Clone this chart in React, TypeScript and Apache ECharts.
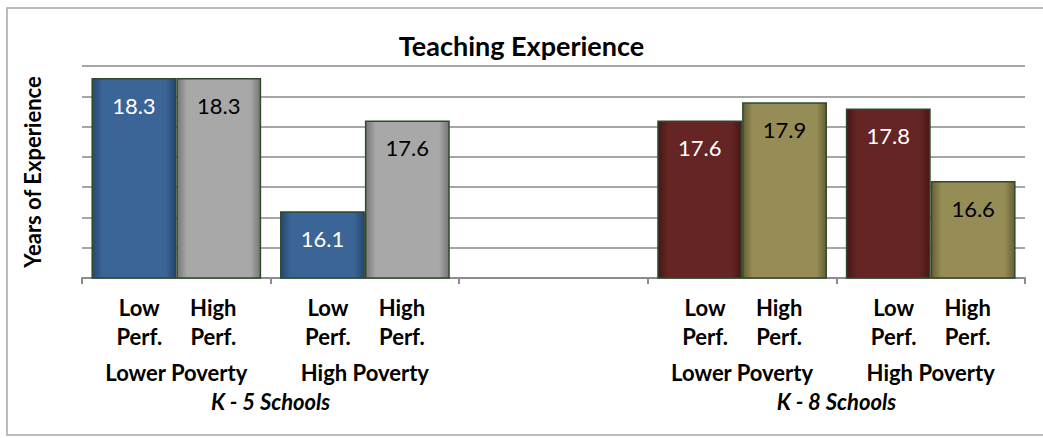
import React, { useEffect, useRef } from "react";
import * as echarts from "echarts";

const groups = ["Lower Poverty", "High Poverty", "", "Lower Poverty", "High Poverty"];
const schoolLabels = ["", "K - 5 Schools", "", "", "K - 8 Schools", ""];
const lowPerf = [18.3, 16.1, null, 17.6, 17.8];
const highPerf = [18.3, 17.6, null, 17.9, 16.6];
const lowColors = ["blue", "blue", "blue", "maroon", "maroon"];
const highColors = ["gray", "gray", "gray", "olive", "olive"];

const palette: Record<string, { edge: string; mid: string; text: string }> = {
  blue: { edge: "#26466f", mid: "#3b6597", text: "#ffffff" },
  gray: { edge: "#767676", mid: "#a8a8a8", text: "#000000" },
  maroon: { edge: "#441715", mid: "#652525", text: "#ffffff" },
  olive: { edge: "#675f36", mid: "#968c56", text: "#000000" },
};

function fill(name: string) {
  const p = palette[name];
  return new echarts.graphic.LinearGradient(0, 0, 1, 0, [
    { offset: 0, color: p.edge },
    { offset: 0.12, color: p.mid },
    { offset: 0.88, color: p.mid },
    { offset: 1, color: p.edge },
  ]);
}

function items(values: (number | null)[], colors: string[]) {
  return values.map((v, i) => ({
    value: v,
    itemStyle: { color: fill(colors[i]) },
    label: { color: palette[colors[i]].text },
  }));
}

const FONT = "Lato, 'Open Sans', sans-serif";

export default function App() {
  const ref = useRef<HTMLDivElement>(null);
  useEffect(() => {
    if (!ref.current) return;
    const chart = echarts.init(ref.current, undefined, { renderer: "svg" });
    const barLabel = {
      show: true,
      position: "insideTop",
      distance: 16,
      fontSize: 22,
      fontFamily: FONT,
      formatter: (p: any) => (p.value == null ? "" : Number(p.value).toFixed(1)),
    };
    const barItem = { borderColor: "#2e4a2b", borderWidth: 1.5 };
    chart.setOption({
      animation: false,
      textStyle: { fontFamily: FONT },
      title: {
        text: "Teaching Experience",
        left: "center",
        top: 32,
        padding: 0,
        textStyle: { fontSize: 27, fontWeight: "bold", color: "#000", fontFamily: FONT },
      },
      graphic: [
        {
          type: "rect",
          shape: { x: 7, y: 8, width: 1045, height: 427 },
          style: { fill: "none", stroke: "#a6a6a6", lineWidth: 1.5 },
          silent: true,
        },
      ],
      grid: { left: 82, right: 18, top: 66, bottom: 160 },
      xAxis: [
        {
          type: "category",
          data: groups,
          position: "bottom",
          axisLine: { lineStyle: { color: "#8c8c8c", width: 2 } },
          axisTick: { show: true, length: 6, lineStyle: { color: "#8c8c8c", width: 2 } },
          axisLabel: {
            interval: 0,
            margin: 15,
            color: "#000",
            formatter: (v: string) =>
              v ? `{c|Low}{c|High}\n{c|Perf.}{c|Perf.}\n{g|${v}}` : "",
            rich: {
              c: { width: 74, align: "center", fontSize: 22, fontWeight: "bold", lineHeight: 29, fontFamily: FONT, color: "#000" },
              g: { fontSize: 22, fontWeight: "bold", lineHeight: 43, fontFamily: FONT, color: "#000" },
            },
          },
        },
        {
          type: "category",
          data: schoolLabels,
          position: "bottom",
          boundaryGap: false,
          axisLine: { show: false },
          axisTick: { show: false },
          axisLabel: {
            interval: 0,
            margin: 112,
            fontSize: 22,
            fontWeight: "bold",
            fontStyle: "italic",
            color: "#000",
            fontFamily: FONT,
          },
        },
      ],
      yAxis: {
        type: "value",
        min: 15,
        max: 18.5,
        interval: 0.5,
        name: "Years of Experience",
        nameLocation: "middle",
        nameGap: 39,
        nameTextStyle: { fontSize: 22, fontWeight: "bold", color: "#000", fontFamily: FONT },
        axisLine: { show: false },
        axisTick: { show: false },
        axisLabel: { show: false },
        splitLine: { lineStyle: { color: "#a6a6a6", width: 2 } },
      },
      series: [
        {
          name: "Low Perf.",
          type: "bar",
          xAxisIndex: 0,
          data: items(lowPerf, lowColors),
          barGap: "0%",
          barCategoryGap: "10%",
          itemStyle: barItem,
          label: barLabel,
        },
        {
          name: "High Perf.",
          type: "bar",
          xAxisIndex: 0,
          data: items(highPerf, highColors),
          barGap: "0%",
          barCategoryGap: "10%",
          itemStyle: barItem,
          label: barLabel,
        },
      ],
    });
    return () => chart.dispose();
  }, []);
  return (
    <div
      ref={ref}
      style={{ position: "fixed", left: 0, top: 0, width: 1043, height: 438, background: "#fff" }}
    />
  );
}
